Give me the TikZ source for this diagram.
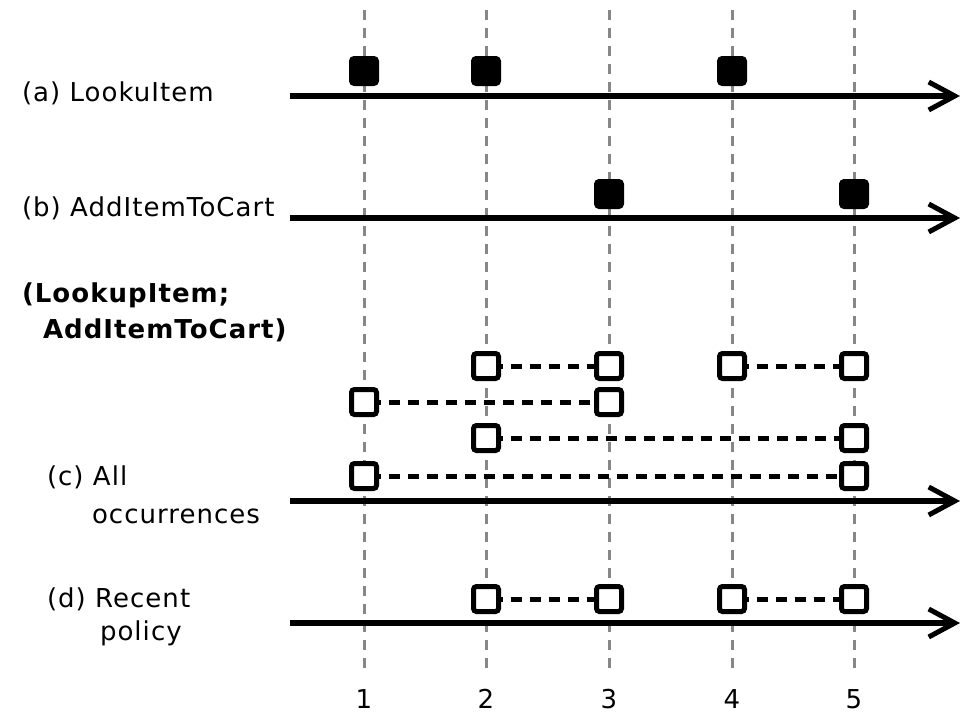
\documentclass[tikz,border=0pt]{standalone}
\usepackage{fontspec}
\setmainfont[LetterSpace=4.0]{DejaVu Sans}
\usetikzlibrary{arrows.meta}
\begin{document}
\begin{tikzpicture}[x=1pt,y=-1pt,
  every node/.style={inner sep=0pt, outer sep=0pt, font=\fontsize{26}{31}\selectfont},
  label/.style={anchor=base west},
  grid/.style={draw=black!47, line width=3pt, dash pattern=on 10pt off 8pt},
  axis/.style={draw=black, line width=5.5pt, -{Straight Barb[length=26pt,width=28pt,line width=5pt]}},
  event/.style={rectangle, rounded corners=4pt, fill=black, draw=black, line width=2pt, minimum size=28pt},
  occ/.style={rectangle, rounded corners=3pt, fill=white, draw=black, line width=5pt, minimum size=25pt},
  link/.style={draw=black, line width=5pt, dash pattern=on 11pt off 8pt, dash phase=7pt}]
\useasboundingbox (0,0) rectangle (970,715);

% time grid with its tick numbers
\foreach \i/\x in {1/364,2/486,3/609,4/732,5/854}{
  \coordinate (top\i) at (\x,10);
  \coordinate (bot\i) at (\x,670);
  \draw[grid] (top\i) -- (bot\i);
  \node[anchor=base] (num\i) at (\x,708) {\i};
}

% time axes
\foreach \n/\y in {a/96,b/218,c/501,d/623}{
  \coordinate (\n0) at (290,\y);
  \coordinate (\n1) at (960,\y);
  \draw[axis] (\n0) -- (\n1);
}

% row labels
\node[label] (la) at (22,101) {(a) LookuItem};
\node[label] (lb) at (22,216) {(b) AddItemToCart};
\node[label] (lq1) at (22,302) {\bfseries (LookupItem;};
\node[label] (lq2) at (43,338) {\bfseries AddItemToCart)};
\node[label] (lc1) at (47,485) {(c) All};
\node[label] (lc2) at (92,523) {occurrences};
\node[label] (ld1) at (47,607) {(d) Recent};
\node[label] (ld2) at (100,640) {policy};

% (a) LookupItem events
\node[event] (a1) at (364,71) {};
\node[event] (a2) at (486,71) {};
\node[event] (a4) at (732,71) {};
% (b) AddItemToCart events
\node[event] (b3) at (609,194) {};
\node[event] (b5) at (854,194) {};

% (c) all occurrences of the sequence
\node[occ] (c12) at (486,366) {};
\node[occ] (c13) at (609,366) {};
\node[occ] (c14) at (732,366) {};
\node[occ] (c15) at (854,366) {};
\node[occ] (c21) at (364,402) {};
\node[occ] (c23) at (609,402) {};
\node[occ] (c32) at (486,438) {};
\node[occ] (c35) at (854,438) {};
\node[occ] (c41) at (364,476) {};
\node[occ] (c45) at (854,476) {};
\draw[link] (c12) -- (c13);
\draw[link] (c14) -- (c15);
\draw[link] (c21) -- (c23);
\draw[link] (c32) -- (c35);
\draw[link] (c41) -- (c45);

% (d) recent policy
\node[occ] (d2) at (486,599) {};
\node[occ] (d3) at (609,599) {};
\node[occ] (d4) at (732,599) {};
\node[occ] (d5) at (854,599) {};
\draw[link] (d2) -- (d3);
\draw[link] (d4) -- (d5);
\end{tikzpicture}
\end{document}
